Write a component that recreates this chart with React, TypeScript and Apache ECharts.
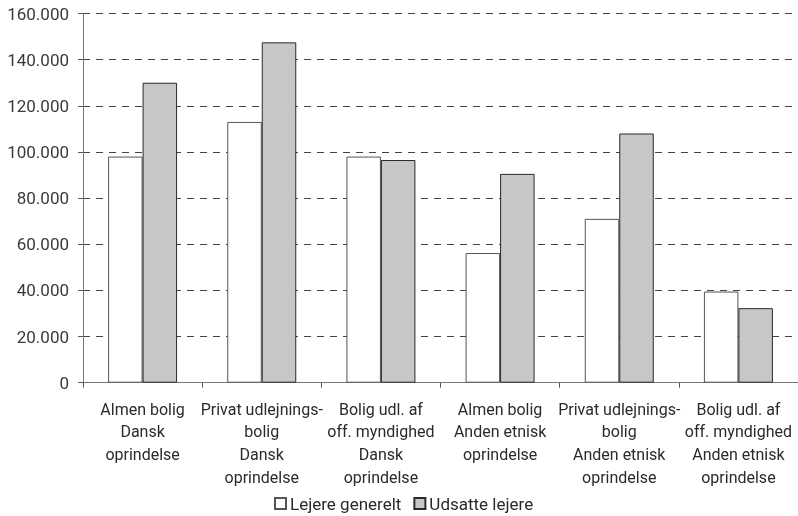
import React, { useEffect, useRef } from "react";
import * as echarts from "echarts";

const categories = [
  "Almen bolig\nDansk\noprindelse",
  "Privat udlejnings-\nbolig\nDansk\noprindelse",
  "Bolig udl. af\noff. myndighed\nDansk\noprindelse",
  "Almen bolig\nAnden etnisk\noprindelse",
  "Privat udlejnings-\nbolig\nAnden etnisk\noprindelse",
  "Bolig udl. af\noff. myndighed\nAnden etnisk\noprindelse",
];
const lejereGenerelt = [98000, 113000, 98000, 56200, 71000, 39500];
const udsatteLejere = [130000, 147500, 96500, 90500, 108000, 32300];
const seriesNames = ["Lejere generelt", "Udsatte lejere"];

const FONT = "Roboto, 'Noto Sans', sans-serif";

export default function App() {
  const ref = useRef<HTMLDivElement>(null);
  useEffect(() => {
    if (!ref.current) return;
    document.body.style.margin = "0";
    document.documentElement.style.overflow = "hidden";
    const chart = echarts.init(ref.current, undefined, { renderer: "svg" });
    chart.setOption({
      animation: false,
      textStyle: { fontFamily: FONT },
      grid: { left: 83, right: -4, top: 13.5, bottom: 133.3, containLabel: false },
      legend: {
        left: 274,
        top: 495,
        padding: 0,
        itemWidth: 11,
        itemHeight: 11,
        itemGap: 12,
        icon: "rect",
        textStyle: { fontFamily: FONT, fontSize: 17, color: "#2a2a2a", padding: [0, 0, 0, -1] },
        data: seriesNames,
      },
      xAxis: {
        type: "category",
        data: categories,
        axisLine: { lineStyle: { color: "#777", width: 1 } },
        axisTick: { show: true, length: 5, lineStyle: { color: "#555" } },
        axisLabel: {
          interval: 0,
          margin: 15,
          fontSize: 16,
          lineHeight: 22.7,
          color: "#2a2a2a",
          fontFamily: FONT,
          align: "center",
        },
        splitLine: { show: false },
      },
      yAxis: {
        type: "value",
        min: 0,
        max: 160000,
        interval: 20000,
        axisLine: { show: true, lineStyle: { color: "#777", width: 1 } },
        axisTick: { show: true, length: 5, lineStyle: { color: "#555" } },
        axisLabel: {
          margin: 14,
          fontSize: 17,
          color: "#3a3a3a",
          fontFamily: FONT,
          formatter: (v: number) => (v === 0 ? "0" : (v / 1000).toFixed(0) + ".000"),
        },
        splitLine: { show: true, lineStyle: { color: "#444", type: [7, 6], width: 1 } },
      },
      series: [
        {
          name: seriesNames[0],
          type: "bar",
          data: lejereGenerelt,
          barWidth: 34.5,
          barGap: "0%",
          itemStyle: { color: "#ffffff", borderColor: "#555", borderWidth: 1 },
        },
        {
          name: seriesNames[1],
          type: "bar",
          data: udsatteLejere,
          barWidth: 34.5,
          barGap: "0%",
          itemStyle: { color: "#c6c7c9", borderColor: "#2a2a2a", borderWidth: 1 },
        },
      ],
    });
    return () => chart.dispose();
  }, []);
  return (
    <div
      ref={ref}
      style={{ position: "fixed", left: 0, top: 0, width: 798, height: 516 }}
    />
  );
}
